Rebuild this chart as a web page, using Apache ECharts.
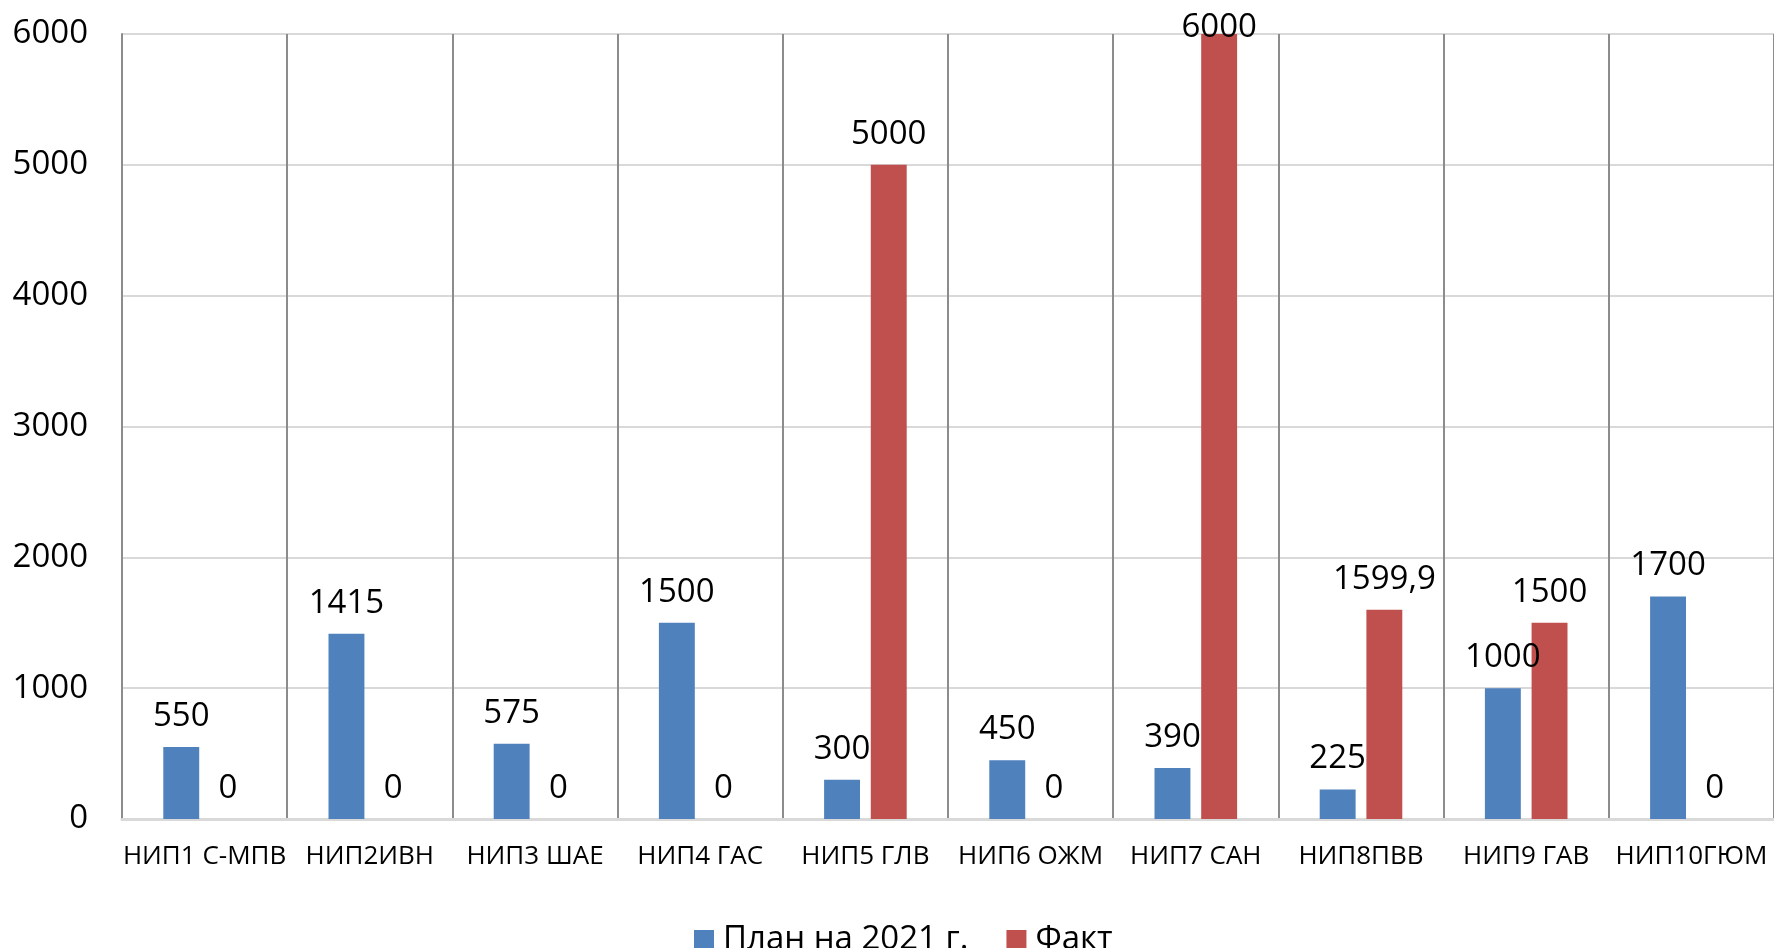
<!DOCTYPE html>
<html><head><meta charset="utf-8">
<script src="https://cdn.jsdelivr.net/npm/echarts@6/dist/echarts.min.js"></script>
<style>html,body{margin:0;padding:0;background:#fff}#c{width:1774px;height:948px}</style>
</head><body><div id="c"></div>
<script>
const categories = ['НИП1 С-МПВ','НИП2ИВН','НИП3 ШАЕ','НИП4 ГАС','НИП5 ГЛВ','НИП6 ОЖМ','НИП7 САН','НИП8ПВВ','НИП9 ГАВ','НИП10ГЮМ'];
const planValues = [550, 1415, 575, 1500, 300, 450, 390, 225, 1000, 1700];
const factValues = [0, 0, 0, 0, 5000, 0, 6000, 1599.9, 1500, 0];
const seriesNames = ['План на 2021 г.', 'Факт'];
const yMin = 0, yMax = 6000, yStep = 1000;

const FONT = '"Open Sans", sans-serif';
const fmt = v => String(v).replace('.', ',');
function items(arr) {
  return arr.map(v => v >= yMax ? { value: v, label: { distance: -10 } } : v);
}
const chart = echarts.init(document.getElementById('c'));
chart.setOption({
  animation: false,
  grid: { left: 122, right: 0, top: 34, bottom: 129, containLabel: false },
  legend: {
    left: 689, top: 918, itemWidth: 20, itemHeight: 20, itemGap: 38, icon: 'rect',
    textStyle: { fontFamily: FONT, fontSize: 33, color: '#000', lineHeight: 34, padding: [0, 0, 0, 4] },
    data: seriesNames
  },
  xAxis: {
    type: 'category', data: categories,
    axisLine: { show: true, lineStyle: { color: '#d9d9d9', width: 3 } },
    axisTick: { show: false },
    axisLabel: { fontFamily: FONT, fontSize: 26, color: '#000', margin: 25, interval: 0 },
    splitLine: { show: true, lineStyle: { color: '#8c8c8c', width: 2 } }
  },
  yAxis: {
    type: 'value', min: yMin, max: yMax, interval: yStep,
    axisLine: { show: true, lineStyle: { color: '#8c8c8c', width: 2 } },
    axisTick: { show: false },
    axisLabel: { fontFamily: FONT, fontSize: 33, color: '#000', margin: 34, formatter: v => String(v) },
    splitLine: { show: true, lineStyle: { color: '#d9d9d9', width: 2 } }
  },
  series: [
    { name: seriesNames[0], type: 'bar', data: items(planValues), barGap: '30%', barCategoryGap: '50%',
      itemStyle: { color: '#4F81BD' },
      label: { show: true, position: 'top', distance: 14, fontFamily: FONT, fontSize: 33, color: '#000', formatter: p => fmt(p.value) } },
    { name: seriesNames[1], type: 'bar', data: items(factValues),
      itemStyle: { color: '#C0504D' },
      label: { show: true, position: 'top', distance: 14, fontFamily: FONT, fontSize: 33, color: '#000', formatter: p => fmt(p.value) } }
  ]
});
</script></body></html>
